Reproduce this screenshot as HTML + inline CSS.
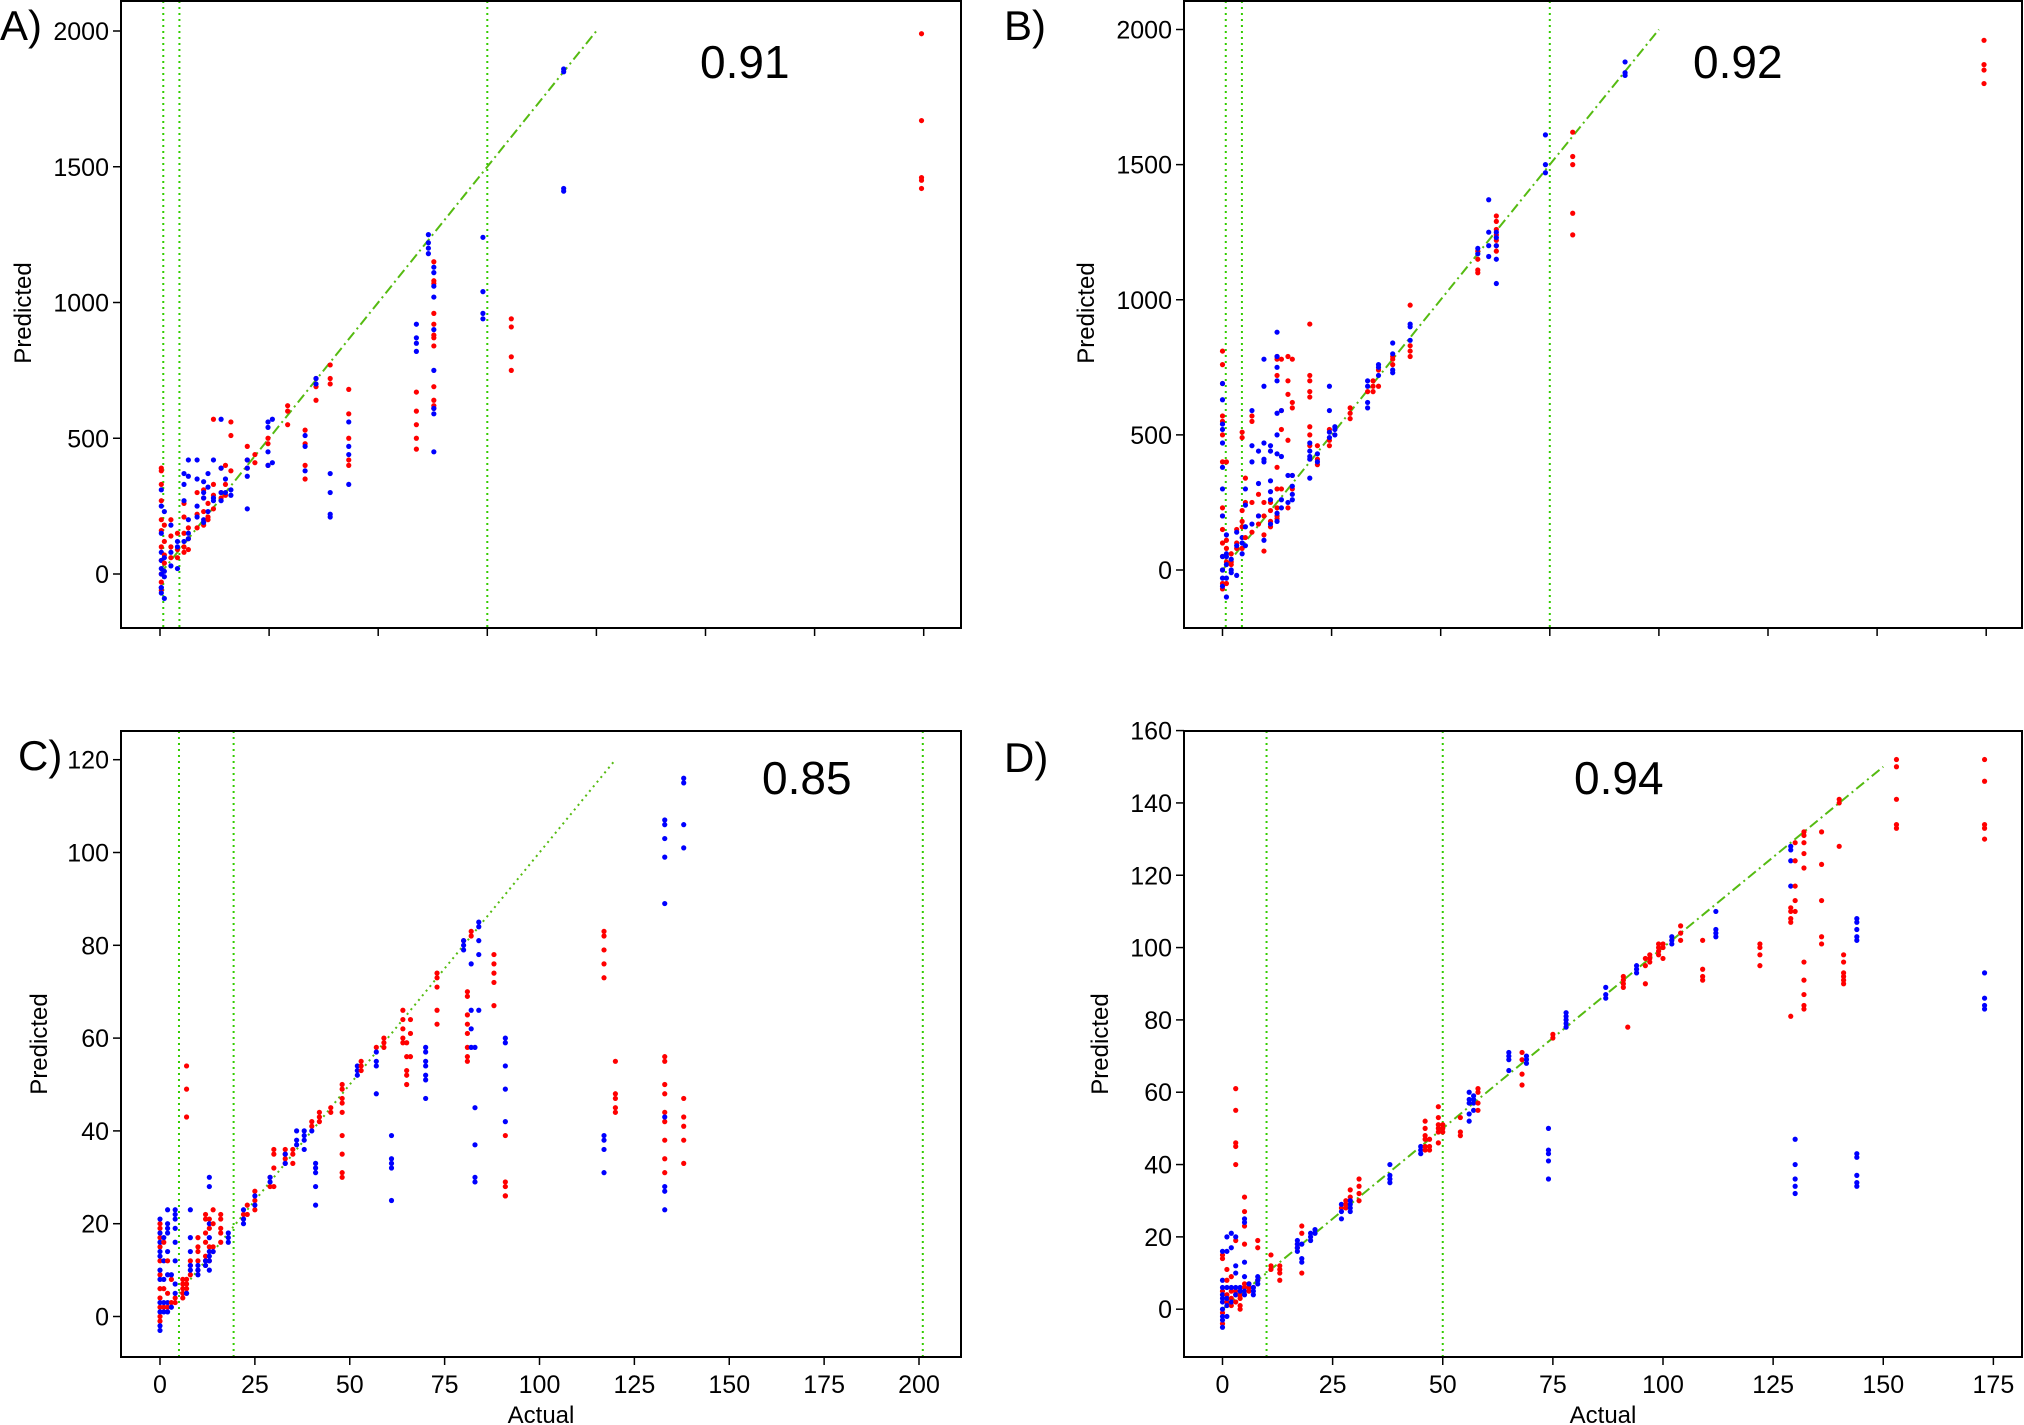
<!DOCTYPE html>
<html><head><meta charset="utf-8"><style>
html,body{margin:0;padding:0;background:#fff;}
svg{display:block;font-family:"Liberation Sans",sans-serif;}
</style></head><body>
<svg id="fig" width="2024" height="1425" viewBox="0 0 2024 1425" xmlns="http://www.w3.org/2000/svg"></svg>
<script>
// ---------- Panel A data ----------
const aX = [6,20,50,80,110,130,170,200,220,245,280,300,325,400,435,495,515,585,665,715,780,865,1175,1230,1255,1480,1610,1850,3490];
const aRed = [[330,270,200,160,-30,-60,50,100,0,390,380],[180,120,70,40],[100,60,140,200],[60,90,150],[150,260,210,100,80],[170,130,90],[170,220,300],[180,230,280,310],[200,260,210],[570,240,290,330],[300,280,390],[400,330,290],[560,510,380],[470,420,390],[440,410],[500,480,400],[],[620,600,550],[530,400,350,480],[720,690,640],[770,720,700],[680,590,500,420,400],[670,600,550,500,460],[],[1150,1080,1070,960,920,880,870,840,690,640,620,610],[],[940,910,800,750],[],[1990,1670,1460,1450,1420]];
const aBlue = [[-70,-50,0,20,50,80,150,250,310,-50],[230,10,-10,60,-90],[30,80,180],[20,120,100],[370,330,120,270],[420,360,130,200,150],[210,250,350,420],[280,300,340,190,200],[320,370,230],[420,280,270],[570,390,300,270],[300,350],[290,310],[420,360,240,390],[],[560,540,400,450],[570,410],[],[510,470,380],[720,700],[370,300,220,210],[560,470,330,440],[920,870,850,820],[1250,1220,1200,1180],[1130,1110,1060,1020,900,750,610,590,450],[1240,1040,960,940],[],[1860,1850,1420,1410],[]];
const aVLines = [15,89,1500];
const aYTicks = [0,500,1000,1500,2000];
const aXTicks = [0,500,1000,1500,2000,2500,3000,3500];
const aScore = "0.91";
// ---------- Panel B data ----------
const bX = [0,18,40,65,90,105,135,165,190,220,250,270,300,320,400,435,490,515,585,665,690,715,780,860,1170,1220,1255,1480,1605,1845,3490];
const bRed = [[810,760,690,570,550,500,400,230,200,150,100,50,0,-50,-70],[400,110,80,30,-50],[30,60,20],[80,100,150],[510,490,220,180,160,80],[340,250,120],[570,550,250,140],[280,170,200],[250,200,130,70],[250,180,220,160],[790,780,720,380,300,230,200,190],[780,590,520,300],[790,700,650,480,230],[780,620,600,300,350],[910,720,700,660,640,530,500,460],[460,410,390],[520,480,460],[],[600,580,560],[660],[700,680,660],[740,680],[790,780,760],[980,830,810,790],[1180,1150,1110,1100],[],[1310,1290,1260,1240,1220,1200,1180],[],[1620,1530,1500,1320,1240],[],[1960,1870,1850,1800]];
const bBlue = [[690,630,540,520,470,300,200,0,-30,-60,50,380],[130,60,-100,20,-30,50],[40,-10,0],[90,140,-20],[120,60,100],[300,240,160,90],[590,460,400,170],[440,320,200],[780,680,470,410,400,110],[460,440,260,290,330,170],[880,790,750,700,580,430,500,180,210],[590,420,260,230],[350,250],[350,310,280,260],[470,440,420,410,340],[430,400],[680,590,490,510],[530,520,500],[],[700,680,620,600],[],[760,750,720],[840,800,730,740],[910,900,850],[1190,1170],[1370,1250,1200,1160],[1250,1230,1200,1150,1060],[1610,1500,1470],[],[1880,1840,1830],[]];
const bVLines = [15,89,1500];
const bYTicks = [0,500,1000,1500,2000];
const bXTicks = [0,500,1000,1500,2000,2500,3000,3500];
const bScore = "0.92";
// ---------- Panel C data ----------
const cX = [0,1,2,3,4,6,7,8,10,12,13,14,16,18,22,23,25,29,30,33,35,36,38,40,41,42,45,48,52,53,57,59,61,64,65,66,70,73,80,81,82,83,84,88,91,117,120,133,138];
const cRed = [[20,19,17,15,12,9,6,4,2,0,-1],[16,6,2],[12,5,2],[8,3],[4,3],[8,7,6,5,4],[54,49,43,8,7,6,5],[12,11,9],[17,15,14,12,10],[22,21,18,16,13,12,11],[21,19,15,12],[23,20,15,14],[22,21,19,18,16],[],[22,21],[24,22],[27,25,23],[30,28],[36,35,32,28],[36,35,34,33],[36,35,33],[],[],[42,41],[],[44,43,42],[45,44],[50,49,47,46,44,39,35,31,30],[],[55,54,53],[58],[60,59,58],[],[66,64,62,60,59],[59,56,53,52,50],[64,61,56],[],[74,73,71,66,63],[81],[70,69,65,63,61,58,56,55],[83,82],[],[],[78,76,74,72,67],[39,29,28,26,26],[83,82,79,76,73],[55,48,47,45,44],[56,55,50,48,44,42,38,34,31],[47,43,41,38,33]];
const cBlue = [[21,18,14,10,8,3,1,-2,-3,16,13],[17,12,8,3,1],[23,20,19,18,14,9,3,1],[9,2],[23,22,21,19,16,12,7,5],[],[5],[23,17,14,11,10],[11,10,9],[12,11],[30,28,20,17,14,13,12,10],[14],[],[18,17,16],[23,21,20],[],[26,24],[30,29],[],[35,33],[],[40,38,37],[40,39,38,36],[40],[33,32,31,28,24],[],[],[],[54,53,52],[],[57,55,54,48],[],[39,34,33,32,25],[],[],[],[58,57,55,54,52,51,47],[],[81,80,79],[],[76,66,62,58],[45,37,30,29,58],[85,84,81,78,66],[],[60,59,54,49,42],[39,38,36,31],[],[107,106,103,99,89,43,28,27,23],[116,115,106,101]];
const cVLines = [5,19.4,201];
const cYTicks = [0,20,40,60,80,100,120];
const cXTicks = [0,25,50,75,100,125,150,175,200];
const cScore = "0.85";
// ---------- Panel D data ----------
const dX = [0,1,2,3,4,5,6,7,8,11,13,17,18,20,21,27,28,29,31,38,45,46,47,49,50,54,56,57,58,65,68,69,74,75,78,87,91,92,94,96,97,99,100,102,104,109,112,122,129,130,132,136,140,141,144,153,173];
const dRed = [[15,14,-4,-1,5],[11,8,4,2],[9,5,3,1],[61,55,46,45,40,19,5,4,2],[4,1,0,3],[31,27,23,18,7,6],[7,6,5],[6],[19,17,8],[15,12,11],[12,11,10,8],[18,17],[23,21,10],[],[],[28],[30,29,28],[33,31,30],[36,34,32,30],[],[],[52,50,48,47,45,44],[47,45,44],[56,53,51,50,49,46],[51,50,49],[53,49,48],[],[],[61,60,57,55],[],[71,69,65,62],[],[],[76,75],[],[],[92,91,90,89],[78],[],[97,95,90],[98,97,96],[101,100,99,98],[101,100,97],[],[106,104,102],[102,94,92,91],[],[101,100,98,95],[111,110,108,107,81],[129,124,117,113,110],[132,131,129,126,122,96,91,87,84,83],[132,123,113,103,101],[141,140,128],[98,96,93,92,91,90],[],[152,150,141,134,133],[152,146,134,133,130]];
const dBlue = [[16,8,6,4,2,0,-2,-5,-3,3],[20,16,6,3,1,-2],[21,17,6,2],[20,12,10,6,4],[6,5],[25,24,13,9,5,4],[7],[6,5,4],[9,8,7],[],[],[19,18,17,16],[18,14,13],[21,20,19],[22,21],[29,27,25],[],[30,29,28,27],[],[40,37,36,35],[45,44,43],[],[],[],[],[],[60,58,57,54,52],[59,58,57,55],[],[71,70,69,66],[],[70,69,68],[50,44,43,41,36],[],[82,81,80,79,78],[89,87,86],[],[],[95,94,93],[],[],[],[],[103,102,101],[],[],[110,105,104,103],[],[128,127,124,117],[47,40,36,34,32],[],[],[],[],[108,107,105,103,102,43,42,37,35,34],[],[93,86,84,83]];
const dVLines = [10,50];
const dYTicks = [0,20,40,60,80,100,120,140,160];
const dXTicks = [0,25,50,75,100,125,150,175];
const dScore = "0.94";

const NS = "http://www.w3.org/2000/svg";
const svg = document.getElementById('fig');
function mk(tag, attrs, parent){
  const e = document.createElementNS(NS, tag);
  for (const k in attrs) e.setAttribute(k, attrs[k]);
  (parent||svg).appendChild(e);
  return e;
}

function panel(cfg){
  const {id, L, R, T, B, x0, xs, y0, ys, X, red, blue, vlines, yt, xt, xLabels, identMax, identDash, score, scoreX, scoreY, letter, letterX, letterY, ylabX, ylabY, xlabX} = cfg;
  const sx = v => x0 + v*xs;
  const sy = v => y0 - v*ys;
  const g = mk('g', {});
  
  
  const cp = mk('clipPath', {id:'clip'+id}, g);
  mk('rect', {x:L, y:T, width:R-L, height:B-T}, cp);
  const plot = mk('g', {'clip-path':'url(#clip'+id+')'}, g);
  
  
  vlines.forEach(v => {
    const l = mk('line', {x1:sx(v), x2:sx(v), y1:T, y2:B, stroke:'#33cc00', 'stroke-width':2, 'stroke-dasharray':'2,4'}, plot);
    
    
  });
  const il = mk('line', {x1:sx(0), y1:sy(0), x2:sx(identMax), y2:sy(identMax), stroke:'#55bb11', 'stroke-width':2, 'stroke-dasharray':identDash}, plot);
  
  
  X.forEach((xv, i) => {
    (red[i]||[]).forEach(yv => {
      const c = mk('circle', {cx:sx(xv), cy:sy(yv), r:2.6, fill:'#ff0000'}, plot);
      
      
    });
    (blue[i]||[]).forEach(yv => {
      const c = mk('circle', {cx:sx(xv), cy:sy(yv), r:2.6, fill:'#0000ff'}, plot);
      
      
    });
  });
  const fr = mk('rect', {x:L, y:T, width:R-L, height:B-T, fill:'none', stroke:'#000', 'stroke-width':2}, g);
  
  
  yt.forEach(v => {
    mk('line', {x1:L-8, x2:L, y1:sy(v), y2:sy(v), stroke:'#000', 'stroke-width':1.5}, g);
    const t = mk('text', {x:L-12, y:sy(v)+9, 'text-anchor':'end', 'font-size':25, fill:'#000'}, g);
    t.textContent = v;
    
    
  });
  xt.forEach(v => {
    mk('line', {x1:sx(v), x2:sx(v), y1:B, y2:B+8, stroke:'#000', 'stroke-width':1.5}, g);
    if (xLabels){
      const t = mk('text', {x:sx(v), y:B+36, 'text-anchor':'middle', 'font-size':25, fill:'#000'}, g);
      t.textContent = v;
      
      
    }
  });
  const yl = mk('text', {x:ylabX, y:ylabY, 'text-anchor':'middle', 'font-size':24, fill:'#000', transform:'rotate(-90 '+ylabX+' '+ylabY+')'}, g);
  yl.textContent = 'Predicted';
  
  
  if (xLabels){
    const xl = mk('text', {x:xlabX, y:B+66, 'text-anchor':'middle', 'font-size':24, fill:'#000'}, g);
    xl.textContent = 'Actual';
    
    
  }
  const sc = mk('text', {x:scoreX, y:scoreY, 'font-size':46, fill:'#000'}, g);
  sc.textContent = score;
  
  
  const lt = mk('text', {x:letterX, y:letterY, 'font-size':42, fill:'#000'}, g);
  lt.textContent = letter;
  
  
}

panel({id:'a', L:121, R:961, T:1, B:628, x0:160, xs:109.1/500, y0:574, ys:543/2000, X:aX, red:aRed, blue:aBlue, vlines:aVLines, yt:aYTicks, xt:aXTicks, xLabels:false, identMax:2000, identDash:'10,4,2,4', score:aScore, scoreX:700, scoreY:78, letter:'A)', letterX:0, letterY:40, ylabX:31, ylabY:313, xlabX:541});
panel({id:'b', L:1184, R:2022, T:1, B:628, x0:1222.5, xs:109.1/500, y0:570, ys:540.5/2000, X:bX, red:bRed, blue:bBlue, vlines:bVLines, yt:bYTicks, xt:bXTicks, xLabels:false, identMax:2000, identDash:'10,4,2,4', score:bScore, scoreX:1693, scoreY:78, letter:'B)', letterX:1004, letterY:40, ylabX:1094, ylabY:313, xlabX:1603});
panel({id:'c', L:121, R:961, T:731, B:1357, x0:160, xs:3.795, y0:1316.5, ys:556.8/120, X:cX, red:cRed, blue:cBlue, vlines:cVLines, yt:cYTicks, xt:cXTicks, xLabels:true, identMax:120, identDash:'2,4', score:cScore, scoreX:762, scoreY:794, letter:'C)', letterX:18, letterY:770, ylabX:47, ylabY:1044, xlabX:541});
panel({id:'d', L:1184, R:2022, T:731, B:1357, x0:1222.5, xs:4.405, y0:1309.2, ys:578.6/160, X:dX, red:dRed, blue:dBlue, vlines:dVLines, yt:dYTicks, xt:dXTicks, xLabels:true, identMax:150, identDash:'10,4,2,4', score:dScore, scoreX:1574, scoreY:794, letter:'D)', letterX:1004, letterY:772, ylabX:1108, ylabY:1044, xlabX:1603});
</script>
</body></html>
